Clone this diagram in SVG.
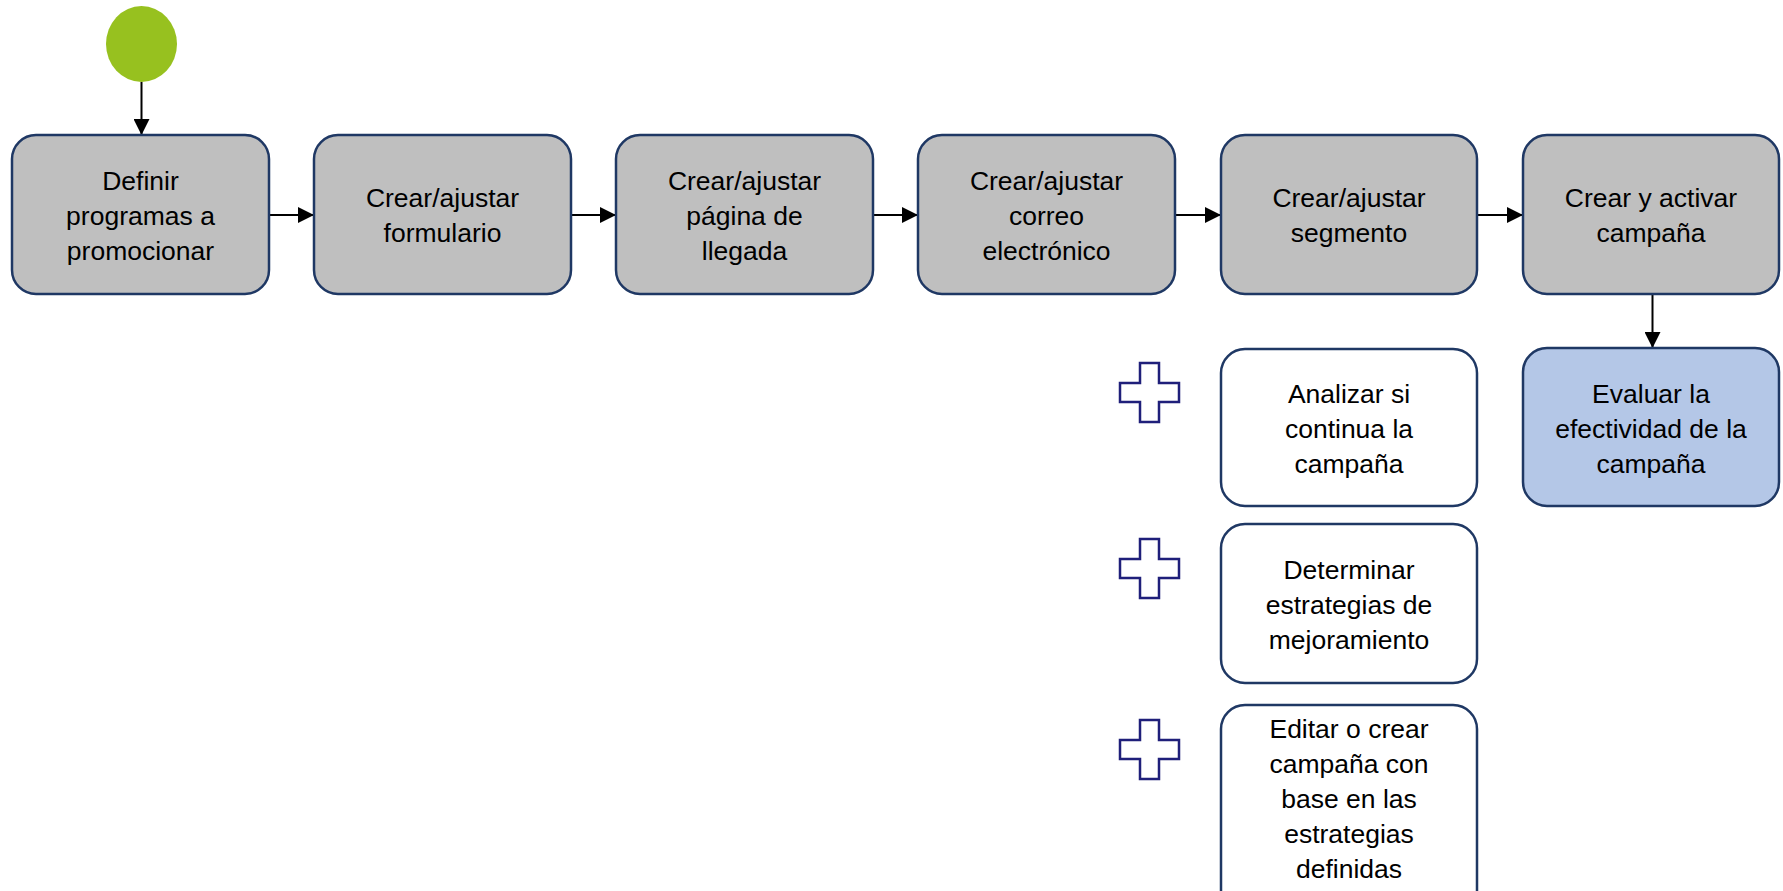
<svg xmlns="http://www.w3.org/2000/svg" width="1783" height="891" viewBox="0 0 1783 891">
<defs>
<style>
.box{stroke:#1F3864;stroke-width:2.5}
.g{fill:#BFBFBF}
.w{fill:#FFFFFF}
.b{fill:#B4C7E7}
.t{font-family:"Liberation Sans",Arial,sans-serif;font-size:26.5px;fill:#000;text-anchor:middle}
.c{stroke:#000;stroke-width:2;fill:none}
.plus{fill:#fff;stroke:#1F1F7A;stroke-width:2.5}
</style>
<marker id="ah" viewBox="0 0 16 16" refX="16" refY="8" markerWidth="16" markerHeight="16" markerUnits="userSpaceOnUse" orient="auto">
<path d="M0,0 L16,8 L0,16 Z" fill="#000"/>
</marker>
<path id="cross" d="M20,0 H39 V20 H59 V39 H39 V59 H20 V39 H0 V20 H20 Z"/>
</defs>

<g id="start"><ellipse cx="141.5" cy="44" rx="35.5" ry="38" fill="#97C11F"/></g>

<g id="connectors">
<line class="c" x1="141.5" y1="82" x2="141.5" y2="135" marker-end="url(#ah)"/>
<line class="c" x1="269" y1="215" x2="314" y2="215" marker-end="url(#ah)"/>
<line class="c" x1="571" y1="215" x2="616" y2="215" marker-end="url(#ah)"/>
<line class="c" x1="873" y1="215" x2="918" y2="215" marker-end="url(#ah)"/>
<line class="c" x1="1175" y1="215" x2="1221" y2="215" marker-end="url(#ah)"/>
<line class="c" x1="1477" y1="215" x2="1523" y2="215" marker-end="url(#ah)"/>
<line class="c" x1="1652.5" y1="295" x2="1652.5" y2="348" marker-end="url(#ah)"/>
</g>

<g id="n1"><rect class="box g" x="12" y="135" width="257" height="159" rx="24"/>
<text class="t" x="140.5" y="190">Definir</text><text class="t" x="140.5" y="225">programas a</text><text class="t" x="140.5" y="260">promocionar</text></g>

<g id="n2"><rect class="box g" x="314" y="135" width="257" height="159" rx="24"/>
<text class="t" x="442.5" y="206.5">Crear/ajustar</text><text class="t" x="442.5" y="241.5">formulario</text></g>

<g id="n3"><rect class="box g" x="616" y="135" width="257" height="159" rx="24"/>
<text class="t" x="744.5" y="190">Crear/ajustar</text><text class="t" x="744.5" y="225">página de</text><text class="t" x="744.5" y="260">llegada</text></g>

<g id="n4"><rect class="box g" x="918" y="135" width="257" height="159" rx="24"/>
<text class="t" x="1046.5" y="190">Crear/ajustar</text><text class="t" x="1046.5" y="225">correo</text><text class="t" x="1046.5" y="260">electrónico</text></g>

<g id="n5"><rect class="box g" x="1221" y="135" width="256" height="159" rx="24"/>
<text class="t" x="1349" y="206.5">Crear/ajustar</text><text class="t" x="1349" y="241.5">segmento</text></g>

<g id="n6"><rect class="box g" x="1523" y="135" width="256" height="159" rx="24"/>
<text class="t" x="1651" y="206.5">Crear y activar</text><text class="t" x="1651" y="241.5">campaña</text></g>

<g id="n7"><rect class="box b" x="1523" y="348" width="256" height="158" rx="24"/>
<text class="t" x="1651" y="402.5">Evaluar la</text><text class="t" x="1651" y="437.5">efectividad de la</text><text class="t" x="1651" y="472.5">campaña</text></g>

<g id="n8"><use href="#cross" class="plus" x="1120" y="363"/>
<rect class="box w" x="1221" y="349" width="256" height="157" rx="24"/>
<text class="t" x="1349" y="402.5">Analizar si</text><text class="t" x="1349" y="437.5">continua la</text><text class="t" x="1349" y="472.5">campaña</text></g>

<g id="n9"><use href="#cross" class="plus" x="1120" y="539"/>
<rect class="box w" x="1221" y="524" width="256" height="159" rx="24"/>
<text class="t" x="1349" y="578.5">Determinar</text><text class="t" x="1349" y="613.5">estrategias de</text><text class="t" x="1349" y="648.5">mejoramiento</text></g>

<g id="n10"><use href="#cross" class="plus" x="1120" y="720"/>
<rect class="box w" x="1221" y="705" width="256" height="210" rx="24"/>
<text class="t" x="1349" y="738">Editar o crear</text><text class="t" x="1349" y="773">campaña con</text><text class="t" x="1349" y="808">base en las</text><text class="t" x="1349" y="843">estrategias</text><text class="t" x="1349" y="878">definidas</text></g>
</svg>
